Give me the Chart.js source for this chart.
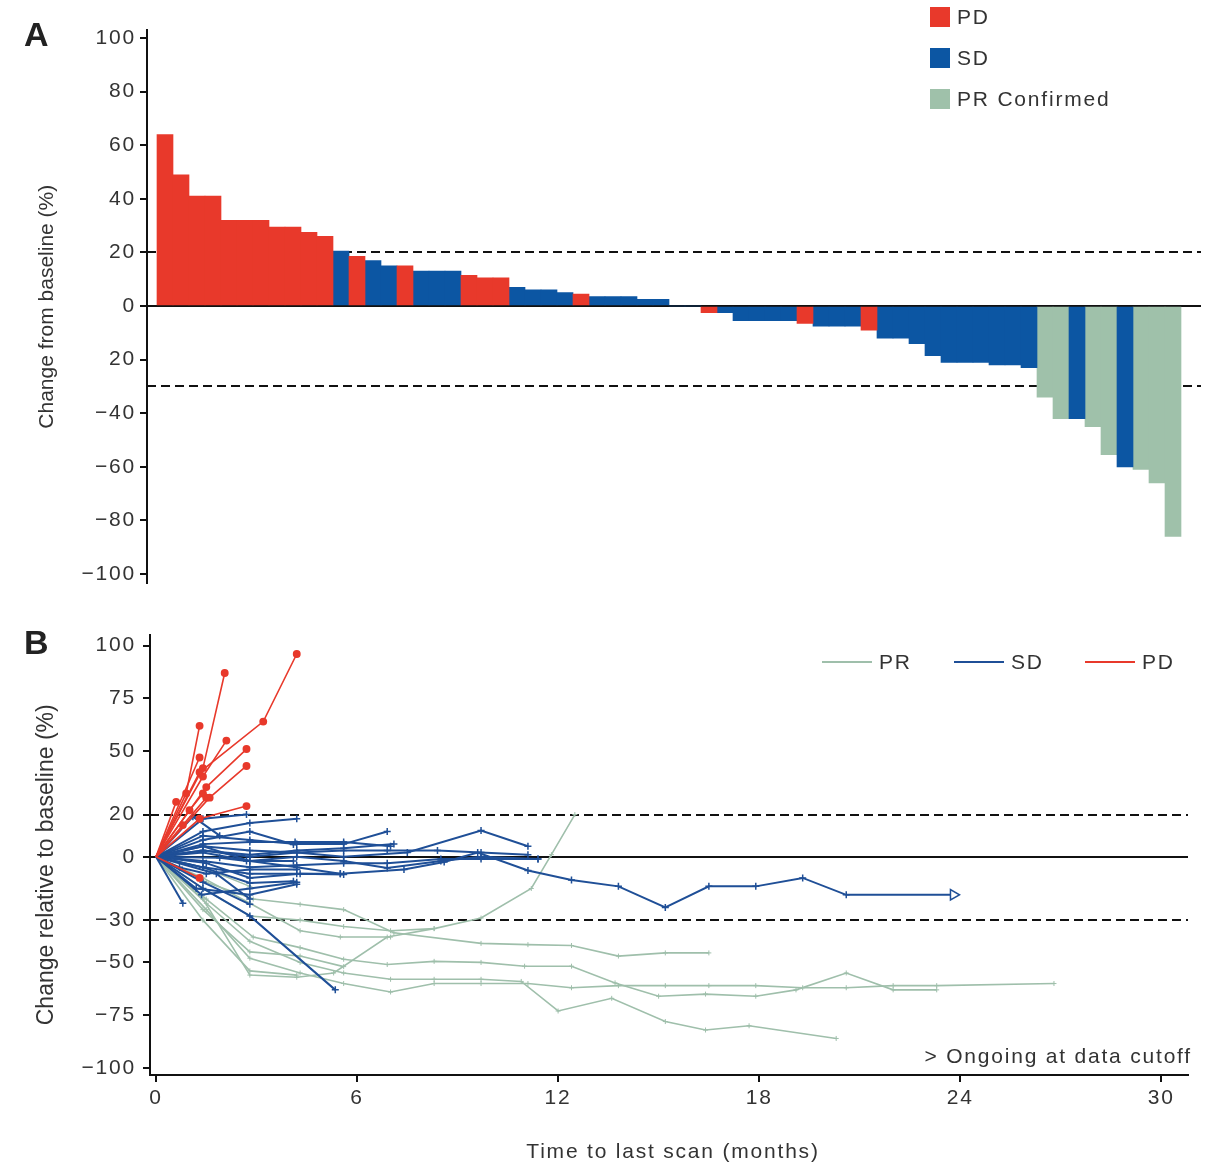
<!DOCTYPE html>
<html><head><meta charset="utf-8">
<script src="https://cdn.jsdelivr.net/npm/chart.js@4.4.1/dist/chart.umd.min.js"></script>
<style>
html,body{margin:0;padding:0;background:#fff;}
#wrap{position:relative;width:1221px;height:1165px;overflow:hidden;background:#fff;}
canvas{position:absolute;left:0;}
#ca{top:0;}
#cb{top:600px;}
</style></head>
<body><div id="wrap"><canvas id="ca" width="1221" height="600"></canvas><canvas id="cb" width="1221" height="565"></canvas></div>
<script>
// ---------- Panel A data (waterfall) ----------
const changeFromBaseline = [64,49,41,41,32,32,32,29.5,29.5,27.5,26,20.5,18.5,17,15,15,13,13,13,11.5,10.5,10.5,7,6,6,5,4.5,3.5,3.5,3.5,2.5,2.5,0,0,-2.5,-2.5,-5.5,-5.5,-5.5,-5.5,-6.5,-7.5,-7.5,-7.5,-9,-12,-12,-14,-18.5,-21,-21,-21,-22,-22,-23,-34,-42,-42,-45,-55.5,-60,-61,-66,-86];
const bestResponse = ['PD','PD','PD','PD','PD','PD','PD','PD','PD','PD','PD','SD','PD','SD','SD','PD','SD','SD','SD','PD','PD','PD','SD','SD','SD','SD','PD','SD','SD','SD','SD','SD','SD','SD','PD','SD','SD','SD','SD','SD','PD','SD','SD','SD','PD','SD','SD','SD','SD','SD','SD','SD','SD','SD','SD','PR Confirmed','PR Confirmed','SD','PR Confirmed','PR Confirmed','SD','PR Confirmed','PR Confirmed','PR Confirmed'];
const responseCats = ['PD','SD','PR Confirmed'];
const barColors = ['#e8392b','#0c56a3','#9fc1aa'];
const yTicksA = [100,80,60,40,20,0,-20,-40,-60,-80,-100];
const yTickLabelsA = ['100','80','60','40','20','0','20','\u221240','\u221260','\u221280','\u2212100'];
const yTitleA = 'Change from baseline (%)';

// ---------- Panel B data (spider) ----------
const pdLines = [
  [[0,0],[1.3,40],[3.2,64],[4.2,96]],
  [[0,0],[1.4,42],[2.05,87]],
  [[0,0],[0.9,30],[1.3,62]],
  [[0,0],[1.4,38],[2.1,55]],
  [[0,0],[1.5,33],[2.7,51]],
  [[0,0],[1.3,47]],
  [[0,0],[1.6,28],[2.7,43]],
  [[0,0],[0.6,26]],
  [[0,0],[1.3,18],[2.7,24]],
  [[0,0],[0.8,15],[1.5,28]],
  [[0,0],[1.0,22],[1.4,30]],
  [[0,0],[1.3,-10]]
];
const sdLines = [
  [[0,0],[1.4,-5],[2.8,-8],[4.2,-8],[5.5,-8],[7.4,-6],[8.6,-2.5],[9.6,2],[11.1,-6.5],[12.4,-11],[13.8,-14],[15.2,-24],[16.5,-14],[17.9,-14],[19.3,-10],[20.6,-18],[23.8,-18]],
  [[0,0],[1.4,5],[2.8,3],[4.2,2],[5.6,0],[7.5,2],[9.7,12.4],[11.1,5]],
  [[0,0],[1.4,10],[2.8,8],[4.2,6],[5.6,6],[6.9,12]],
  [[0,0],[1.4,6],[2.8,7],[4.15,7],[5.6,7],[7.0,5]],
  [[0,0],[1.4,2],[2.8,-2],[4.2,0],[5.6,-2],[6.9,-5.3],[8.5,-2],[9.7,0],[11.4,-1]],
  [[0,0],[1.4,3],[2.8,1],[4.2,3],[5.6,4],[7.1,6]],
  [[0,0],[1.4,-15],[2.8,-28],[5.35,-63]],
  [[0,0],[0.8,-22]],
  [[0,0],[1.4,-12],[2.8,-22.5]],
  [[0,0],[1.4,-5],[2.8,-12.4],[4.1,-11.6]],
  [[0,0],[1.4,12],[2.8,16],[4.2,18]],
  [[0,0],[1.1,19],[1.9,10]],
  [[0,0],[1.4,18],[2.7,20]],
  [[0,0],[1.5,-3],[2.8,-10],[4.3,-8],[5.6,-8.4]],
  [[0,0],[1.4,8],[2.8,12],[4.1,5.8]],
  [[0,0],[1.36,-18],[2.8,-15],[4.2,-12]],
  [[0,0],[1.4,3],[2.8,0],[4.2,2],[5.6,3],[6.9,3],[8.4,3],[9.7,2],[11.1,1]],
  [[0,0],[1.9,-0.5],[2.7,-2],[4.1,-2]],
  [[0,0],[1.8,-8],[2.8,-20]],
  [[0,0],[1.2,-15],[2.8,-18],[4.2,-13]],
  [[0,0],[1.4,-2],[2.8,-5],[4.2,-4],[5.6,-3],[6.9,-3],[8.5,-1],[9.7,-1],[11.4,-1]],
  [[0,0],[0.7,-5],[1.5,-8],[2.8,-6],[4.2,-6]],
  [[0,0],[1.4,5],[2.8,-2],[4.2,-5],[5.5,-8]]
];
const prLines = [
  [[0,0],[1.4,-20],[2.8,-56],[4.2,-57],[5.3,-55],[6.9,-38],[8.3,-34],[9.7,-29],[11.2,-15],[11.8,1],[12.5,20]],
  [[0,0],[1.5,-12],[2.9,-20],[4.3,-22.5],[5.6,-25],[7.1,-36],[9.7,-41],[11.1,-41.6],[12.4,-42],[13.8,-47],[15.2,-45.5],[16.5,-45.5]],
  [[0,0],[1.5,-20],[2.9,-38],[4.3,-43],[5.6,-48.5],[6.9,-51],[8.3,-49.5],[9.7,-50],[11,-51.8],[12.4,-51.8],[13.7,-59.7],[15,-66],[16.4,-65],[17.9,-66],[19.1,-63],[20.6,-55],[22,-63],[23.3,-63]],
  [[0,0],[1.5,-25],[2.8,-48],[4.3,-55],[5.6,-60],[7,-64],[8.3,-60],[9.7,-60],[11.1,-60],[12.4,-62],[13.8,-61],[15.2,-61],[16.5,-61],[17.9,-61],[19.3,-62],[20.6,-62],[22,-61],[23.3,-61],[26.8,-60]],
  [[0,0],[1.5,-22],[2.8,-40],[4.3,-50],[5.6,-55],[7,-58],[8.3,-58],[9.7,-58],[10.9,-59],[12,-73],[13.6,-67],[15.2,-78],[16.4,-82],[17.7,-80],[20.3,-86]],
  [[0,0],[1.4,-15],[2.8,-28],[4.3,-30],[5.6,-33],[7,-35],[8.3,-34]],
  [[0,0],[1.4,-25],[2.8,-45],[4.3,-47],[5.6,-52]],
  [[0,0],[1.4,-30],[2.8,-54],[4.2,-56]],
  [[0,0],[1.4,-10],[2.8,-22],[4.3,-35],[5.5,-38],[7,-38]],
  [[0,0],[1.4,-5],[2.8,-14]]
];
const ongoingLine = 0; // index in sdLines ending with open arrow
const lineCats = ['PR','SD','PD'];
const lineColors = ['#9fbfab','#1f4f97','#e8392b'];
const yTicksB = [100,75,50,20,0,-30,-50,-75,-100];
const yTickLabelsB = ['100','75','50','20','0','\u221230','\u221250','\u221275','\u2212100'];
const xTicksB = [0,6,12,18,24,30];
const xTitleB = 'Time to last scan (months)';
const yTitleB = 'Change relative to baseline (%)';
const noteB = '> Ongoing at data cutoff';

// ---------- common ----------
const FF = "'Liberation Sans', Arial, Helvetica, sans-serif";
const LS = '1.8px';
const FS = 21;
const TXT = '#333';
Chart.defaults.font.family = FF;

const spacingPlugin = { id:'spacing', beforeDraw(chart){ chart.ctx.letterSpacing = LS; } };

const refLinePlugin = {
  id:'refLines',
  beforeDatasetsDraw(chart, args, opts){
    const {ctx, chartArea:{left,right}} = chart;
    const y = chart.scales.y;
    ctx.save();
    ctx.strokeStyle = '#111'; ctx.lineWidth = 2;
    ctx.setLineDash([9,5]);
    (opts.dashed||[]).forEach(v=>{
      const py = Math.round(y.getPixelForValue(v));
      ctx.beginPath(); ctx.moveTo(left,py); ctx.lineTo(right,py); ctx.stroke();
    });
    ctx.setLineDash([]);
    const p0 = Math.round(y.getPixelForValue(0));
    ctx.beginPath(); ctx.moveTo(left,p0); ctx.lineTo(right,p0); ctx.stroke();
    ctx.restore();
  }
};

function axisStyle(extra){
  return Object.assign({
    ticks:{ font:{size:FS}, color:TXT, autoSkip:false, maxRotation:0 },
    grid:{ drawOnChartArea:false, drawTicks:true, tickLength:7, color:'#111', lineWidth:2 },
    border:{ display:true, color:'#111', width:2 }
  }, extra);
}

// ---------- Panel A ----------
const barDatasets = responseCats.map((cat,k)=>({
  label:cat,
  backgroundColor:barColors[k],
  borderWidth:0,
  grouped:false,
  barPercentage:1,
  categoryPercentage:1,
  data: changeFromBaseline.map((v,i)=> bestResponse[i]===cat ? {x:i, y:v} : null).filter(Boolean)
}));

const panelAPlugin = {
  id:'panelA',
  afterDraw(chart){
    const ctx = chart.ctx, ca = chart.chartArea;
    ctx.save();
    ctx.letterSpacing = '0px';
    ctx.fillStyle = '#222';
    ctx.font = 'bold 34px ' + FF; ctx.textBaseline = 'middle'; ctx.textAlign = 'left';
    ctx.fillText('A', 24, 37);
    ctx.save();
    ctx.translate(47, (ca.top+ca.bottom)/2); ctx.rotate(-Math.PI/2);
    ctx.font = '21px ' + FF; ctx.textAlign = 'center'; ctx.fillStyle = TXT;
    ctx.fillText(yTitleA, 0, 0);
    ctx.restore();
    ctx.letterSpacing = LS;
    ctx.font = FS + 'px ' + FF; ctx.textAlign = 'left'; ctx.textBaseline = 'middle';
    responseCats.forEach((cat,k)=>{
      const cy = 17 + k*41;
      ctx.fillStyle = barColors[k]; ctx.fillRect(930, cy-10, 20, 20);
      ctx.fillStyle = TXT; ctx.fillText(cat, 957, cy+1);
    });
    ctx.restore();
  }
};

new Chart(document.getElementById('ca'), {
  type:'bar',
  data:{ datasets: barDatasets },
  options:{
    responsive:false, animation:false, events:[],
    layout:{ padding:{ top:30, bottom:15, left:0, right:20 } },
    plugins:{ legend:{display:false}, tooltip:{enabled:false}, refLines:{ dashed:[20,-30] } },
    scales:{
      x:{ type:'linear', min:-1.125, max:64.75, offset:false, display:false, grid:{offset:false} },
      y: axisStyle({
        min:-103.5, max:103,
        afterFit(s){ s.width = 147; },
        afterBuildTicks(s){ s.ticks = yTicksA.map(v=>({value:v})); },
        ticks:{ font:{size:FS}, color:TXT, padding:4, autoSkip:false, callback:(v,i)=>yTickLabelsA[i] }
      })
    }
  },
  plugins:[spacingPlugin, refLinePlugin, panelAPlugin]
});

// ---------- Panel B ----------
function mkLine(pts, cat, idx){
  const k = lineCats.indexOf(cat);
  const color = lineColors[k];
  const last = pts.length-1;
  const ongoing = cat==='SD' && idx===ongoingLine;
  return {
    label:cat,
    data: pts.map(p=>({x:p[0], y:p[1]})),
    borderColor:color,
    borderWidth: cat==='SD' ? 2 : 1.6,
    tension:0, fill:false,
    order: cat==='PD' ? 1 : (cat==='SD' ? 2 : 3),
    pointRadius: c => (c.raw && c.raw.x===0) ? 0 : (ongoing && c.dataIndex===last ? 6 : (cat==='PD' ? 3.2 : (cat==='SD' ? 3.5 : 2.5))),
    pointStyle: c => (ongoing && c.dataIndex===last) ? 'triangle' : (cat==='PD' ? 'circle' : 'cross'),
    rotation: c => (ongoing && c.dataIndex===last) ? 90 : 0,
    pointBackgroundColor: c => (ongoing && c.dataIndex===last) ? '#fff' : color,
    pointBorderColor: color,
    pointBorderWidth: cat==='PR' ? 1 : 1.5
  };
}
const lineDatasets = [
  ...pdLines.map((p,i)=>mkLine(p,'PD',i)),
  ...sdLines.map((p,i)=>mkLine(p,'SD',i)),
  ...prLines.map((p,i)=>mkLine(p,'PR',i))
];

const panelBPlugin = {
  id:'panelB',
  afterDraw(chart){
    const ctx = chart.ctx, ca = chart.chartArea;
    ctx.save();
    ctx.letterSpacing = '0px';
    ctx.fillStyle = '#222';
    ctx.font = 'bold 34px ' + FF; ctx.textBaseline = 'middle'; ctx.textAlign = 'left';
    ctx.fillText('B', 24, 45);
    ctx.save();
    ctx.translate(47, chart.scales.y.getPixelForValue(0) + 8); ctx.rotate(-Math.PI/2);
    ctx.font = '23px ' + FF; ctx.textAlign = 'center'; ctx.fillStyle = TXT;
    ctx.fillText(yTitleB, 0, 0);
    ctx.restore();
    ctx.letterSpacing = LS;
    ctx.font = FS + 'px ' + FF; ctx.fillStyle = TXT;
    ctx.textAlign = 'center';
    ctx.fillText(xTitleB, 673, 552);
    ctx.textAlign = 'right';
    ctx.fillText(noteB, 1192, 457);
    // legend
    ctx.textAlign = 'left';
    const legX = [822, 954, 1085];
    lineCats.forEach((cat,k)=>{
      const y = 62;
      ctx.strokeStyle = lineColors[k]; ctx.lineWidth = 2;
      ctx.beginPath(); ctx.moveTo(legX[k], y); ctx.lineTo(legX[k]+50, y); ctx.stroke();
      ctx.fillStyle = TXT; ctx.fillText(cat, legX[k]+57, y+1);
    });
    ctx.restore();
  }
};

new Chart(document.getElementById('cb'), {
  type:'line',
  data:{ datasets: lineDatasets },
  options:{
    responsive:false, animation:false, events:[],
    layout:{ padding:{ top:35, bottom:0, left:0, right:33 } },
    plugins:{ legend:{display:false}, tooltip:{enabled:false}, refLines:{ dashed:[20,-30] } },
    scales:{
      x: axisStyle({
        type:'linear', min:-0.18, max:30.8,
        afterFit(s){ s.height = 90; },
        afterBuildTicks(s){ s.ticks = xTicksB.map(v=>({value:v})); },
        ticks:{ font:{size:FS}, color:TXT, padding:4, autoSkip:false, maxRotation:0, callback:v=>String(v) }
      }),
      y: axisStyle({
        min:-103.3, max:105,
        afterFit(s){ s.width = 150; },
        afterBuildTicks(s){ s.ticks = yTicksB.map(v=>({value:v})); },
        ticks:{ font:{size:FS}, color:TXT, padding:7, autoSkip:false, callback:(v,i)=>yTickLabelsB[i] }
      })
    }
  },
  plugins:[spacingPlugin, refLinePlugin, panelBPlugin]
});
</script>
</body></html>
